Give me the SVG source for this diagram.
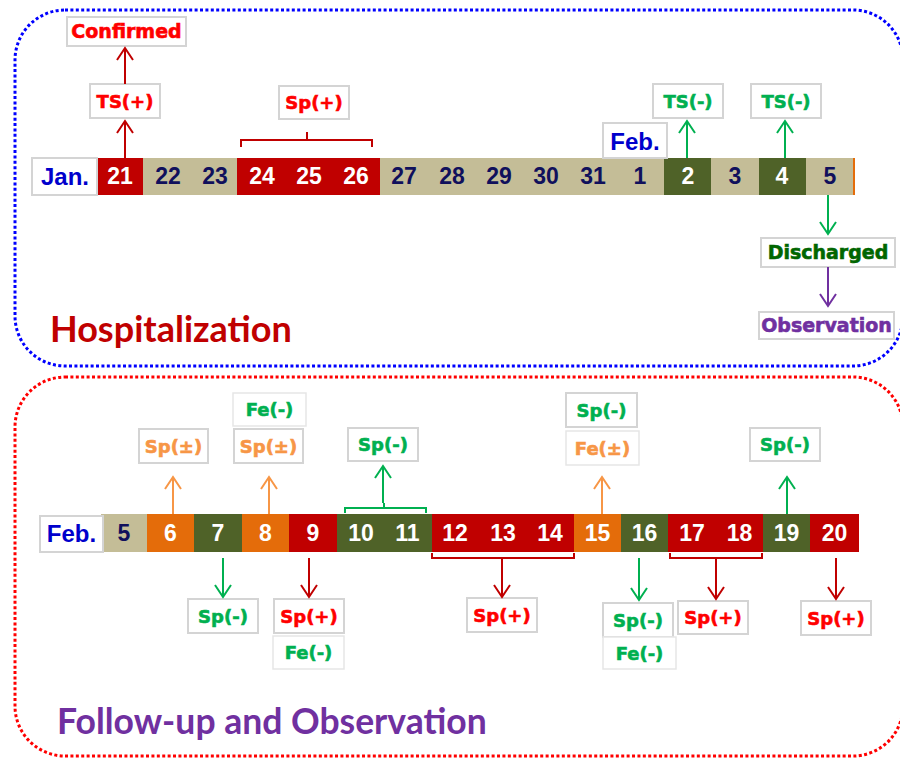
<svg xmlns="http://www.w3.org/2000/svg" width="900" height="758" viewBox="0 0 900 758">
<style>
.frame{fill:none;stroke-width:3;stroke-dasharray:3 2.4}
.box{fill:#fff;stroke:#D4D4D4;stroke-width:2}
.box2{fill:#fff;stroke:#E6E6E6;stroke-width:1.5}
.lbl{font-family:"DejaVu Sans",sans-serif;font-weight:bold;font-size:18px;text-anchor:middle;stroke-width:0.6;paint-order:stroke}
.big{font-size:19px}
.num{font-family:"Liberation Sans",Arial,sans-serif;font-weight:bold;font-size:23px;text-anchor:middle}
.mon{font-family:"Liberation Sans",Arial,sans-serif;font-weight:bold;font-size:24px;text-anchor:middle;fill:#0000CC}
.w{fill:#fff}.n{fill:#10105C}
.red{fill:#FF0000;stroke:#FF0000}.grn{fill:#00B050;stroke:#00B050}.org{fill:#F79646;stroke:#F79646}.dgr{fill:#006600;stroke:#006600}.pur{fill:#7030A0;stroke:#7030A0}
.tan{fill:#C4BD97}.cr{fill:#C00000}.cg{fill:#4F6228}.co{fill:#E46C0A}
.title{font-family:Lato,"Open Sans",sans-serif;font-weight:bold}
.a{fill:none;stroke-width:2}
.ar{stroke:#C00000}.ag{stroke:#00B050}.ao{stroke:#F79646}.ap{stroke:#7030A0}
</style>
<defs>
<marker id="mr" markerUnits="userSpaceOnUse" markerWidth="20" markerHeight="20" refX="0" refY="0" orient="auto" overflow="visible"><path d="M-12,-8 L0,0 L-12,8" fill="none" stroke="#C00000" stroke-width="2"/></marker>
<marker id="mg" markerUnits="userSpaceOnUse" markerWidth="20" markerHeight="20" refX="0" refY="0" orient="auto" overflow="visible"><path d="M-12,-8 L0,0 L-12,8" fill="none" stroke="#00B050" stroke-width="2"/></marker>
<marker id="mo" markerUnits="userSpaceOnUse" markerWidth="20" markerHeight="20" refX="0" refY="0" orient="auto" overflow="visible"><path d="M-12,-8 L0,0 L-12,8" fill="none" stroke="#F79646" stroke-width="2"/></marker>
<marker id="mp" markerUnits="userSpaceOnUse" markerWidth="20" markerHeight="20" refX="0" refY="0" orient="auto" overflow="visible"><path d="M-12,-8 L0,0 L-12,8" fill="none" stroke="#7030A0" stroke-width="2"/></marker>
</defs>

<!-- frames -->
<g id="hospitalization-frame">
<rect class="frame" x="15" y="10" width="888" height="356" rx="50" ry="50" stroke="#0000FF"/>
<text class="title" x="50" y="342" font-size="36" fill="#C00000">Hospitalization</text>
</g>
<g id="followup-frame">
<rect class="frame" x="15" y="377" width="888" height="379" rx="50" ry="50" stroke="#FF0000"/>
<text class="title" x="57" y="734" font-size="35.5" fill="#7030A0">Follow-up and Observation</text>
</g>

<!-- top timeline -->
<g id="timeline-jan">
<rect class="tan" x="97" y="158" width="757" height="37"/>
<rect class="cr" x="97" y="158" width="46" height="37"/>
<rect class="cr" x="237" y="158" width="143" height="37"/>
<rect class="cg" x="664" y="158" width="47" height="37"/>
<rect class="cg" x="759" y="158" width="47" height="37"/>
<rect x="853" y="158" width="2" height="37" fill="#E46C0A"/>
<rect class="box" x="32" y="158" width="65" height="37"/>
<text class="mon" x="65" y="185">Jan.</text>
<text class="num w" x="120" y="184">21</text>
<text class="num n" x="168" y="184">22</text>
<text class="num n" x="215" y="184">23</text>
<text class="num w" x="262" y="184">24</text>
<text class="num w" x="309" y="184">25</text>
<text class="num w" x="356" y="184">26</text>
<text class="num n" x="404" y="184">27</text>
<text class="num n" x="452" y="184">28</text>
<text class="num n" x="499" y="184">29</text>
<text class="num n" x="546" y="184">30</text>
<text class="num n" x="593" y="184">31</text>
<text class="num n" x="640" y="184">1</text>
<text class="num w" x="688" y="184">2</text>
<text class="num n" x="735" y="184">3</text>
<text class="num w" x="782" y="184">4</text>
<text class="num n" x="830" y="184">5</text>
</g>
<g id="feb-top"><rect class="box" x="603" y="123" width="64" height="35"/><text class="mon" x="635" y="150">Feb.</text></g>

<g id="n-confirmed"><rect class="box" x="67" y="17" width="119" height="29"/><text class="lbl big red" x="126.5" y="38">Confirmed</text></g>
<g id="n-ts-plus"><rect class="box" x="90" y="84" width="70" height="34"/><text class="lbl red" x="125" y="107.5">TS(+)</text></g>
<g id="n-sp-plus-top"><rect class="box" x="279" y="86" width="70" height="33"/><text class="lbl red" x="314" y="109">Sp(+)</text></g>
<g id="n-ts-minus-2"><rect class="box" x="653" y="84" width="70" height="34"/><text class="lbl grn" x="688" y="107.5">TS(-)</text></g>
<g id="n-ts-minus-4"><rect class="box" x="751" y="84" width="70" height="34"/><text class="lbl grn" x="786" y="107.5">TS(-)</text></g>
<g id="n-discharged"><rect class="box" x="761" y="238" width="134" height="29"/><text class="lbl big dgr" x="828" y="259">Discharged</text></g>
<g id="n-observation"><rect class="box" x="759" y="312" width="135" height="27"/><text class="lbl big pur" x="826.5" y="332">Observation</text></g>

<!-- bottom timeline -->
<g id="timeline-feb">
<rect class="tan" x="101" y="514" width="46" height="38"/>
<rect class="co" x="147" y="514" width="47" height="38"/>
<rect class="cg" x="194" y="514" width="48" height="38"/>
<rect class="co" x="242" y="514" width="47" height="38"/>
<rect class="cr" x="289" y="514" width="48" height="38"/>
<rect class="cg" x="337" y="514" width="95" height="38"/>
<rect class="cr" x="432" y="514" width="142" height="38"/>
<rect class="co" x="574" y="514" width="47" height="38"/>
<rect class="cg" x="621" y="514" width="47" height="38"/>
<rect class="cr" x="668" y="514" width="95" height="38"/>
<rect class="cg" x="763" y="514" width="47" height="38"/>
<rect class="cr" x="810" y="514" width="49" height="38"/>
<rect class="box" x="40" y="516" width="63" height="36"/>
<text class="mon" x="71.5" y="542">Feb.</text>
<text class="num n" x="124" y="541">5</text>
<text class="num w" x="170.5" y="541">6</text>
<text class="num w" x="218" y="541">7</text>
<text class="num w" x="265.5" y="541">8</text>
<text class="num w" x="313" y="541">9</text>
<text class="num w" x="361" y="541">10</text>
<text class="num w" x="407.5" y="541">11</text>
<text class="num w" x="455" y="541">12</text>
<text class="num w" x="503" y="541">13</text>
<text class="num w" x="550" y="541">14</text>
<text class="num w" x="597.5" y="541">15</text>
<text class="num w" x="644.5" y="541">16</text>
<text class="num w" x="692" y="541">17</text>
<text class="num w" x="739.5" y="541">18</text>
<text class="num w" x="786.5" y="541">19</text>
<text class="num w" x="834.5" y="541">20</text>
</g>

<g id="n-sppm-6"><rect class="box" x="139" y="429" width="69" height="34"/><text class="lbl org" x="173.5" y="452.5">Sp(±)</text></g>
<g id="n-fe-8"><rect class="box2" x="233" y="393" width="73" height="33"/><text class="lbl grn" x="269.5" y="416">Fe(-)</text></g>
<g id="n-sppm-8"><rect class="box" x="234" y="429" width="69" height="34"/><text class="lbl org" x="268.5" y="452.5">Sp(±)</text></g>
<g id="n-sp-10"><rect class="box" x="348" y="428" width="70" height="33"/><text class="lbl grn" x="383" y="451">Sp(-)</text></g>
<g id="n-sp-15"><rect class="box" x="566" y="393" width="71" height="34"/><text class="lbl grn" x="601.5" y="416.5">Sp(-)</text></g>
<g id="n-fepm-15"><rect class="box2" x="566" y="431" width="73" height="34"/><text class="lbl org" x="602.5" y="454.5">Fe(±)</text></g>
<g id="n-sp-19"><rect class="box" x="750" y="428" width="70" height="33"/><text class="lbl grn" x="785" y="451">Sp(-)</text></g>
<g id="n-sp-7"><rect class="box" x="188" y="599" width="70" height="34"/><text class="lbl grn" x="223" y="622.5">Sp(-)</text></g>
<g id="n-sp-9"><rect class="box" x="274" y="599" width="70" height="34"/><text class="lbl red" x="309" y="622.5">Sp(+)</text></g>
<g id="n-fe-9"><rect class="box2" x="273" y="636" width="71" height="33"/><text class="lbl grn" x="308.5" y="659">Fe(-)</text></g>
<g id="n-sp-12"><rect class="box" x="467" y="598" width="70" height="34"/><text class="lbl red" x="502" y="621.5">Sp(+)</text></g>
<g id="n-sp-16"><rect class="box" x="603" y="603" width="70" height="34"/><text class="lbl grn" x="638" y="626.5">Sp(-)</text></g>
<g id="n-fe-16"><rect class="box2" x="603" y="637" width="73" height="32"/><text class="lbl grn" x="639.5" y="659.5">Fe(-)</text></g>
<g id="n-sp-17"><rect class="box" x="678" y="601" width="70" height="33"/><text class="lbl red" x="713" y="624">Sp(+)</text></g>
<g id="n-sp-20"><rect class="box" x="801" y="601" width="70" height="34"/><text class="lbl red" x="836" y="624.5">Sp(+)</text></g>

<!-- connectors -->
<g id="connectors">
<path class="a ar" d="M125,158 V121" marker-end="url(#mr)"/>
<path class="a ar" d="M125,84 V48" marker-end="url(#mr)"/>
<path class="a ar" d="M241,147 V140 H372 V147 M307,140 V132"/>
<path class="a ag" d="M687,158 V121" marker-end="url(#mg)"/>
<path class="a ag" d="M785,158 V121" marker-end="url(#mg)"/>
<path class="a ag" d="M828,195 V234" marker-end="url(#mg)"/>
<path class="a ap" d="M828,267 V306" marker-end="url(#mp)"/>

<path class="a ao" d="M173,514 V477" marker-end="url(#mo)"/>
<path class="a ao" d="M269,514 V477" marker-end="url(#mo)"/>
<path class="a ag" d="M345,513 V508 H426 V513 M384,508 V503"/>
<path class="a ag" d="M383,503 V466" marker-end="url(#mg)"/>
<path class="a ao" d="M602,514 V477" marker-end="url(#mo)"/>
<path class="a ag" d="M787,514 V477" marker-end="url(#mg)"/>
<path class="a ag" d="M223,558 V597" marker-end="url(#mg)"/>
<path class="a ar" d="M309,558 V597" marker-end="url(#mr)"/>
<path class="a ar" d="M432,553 V558 H574 V553"/>
<path class="a ar" d="M502,558 V597" marker-end="url(#mr)"/>
<path class="a ag" d="M639,558 V600" marker-end="url(#mg)"/>
<path class="a ar" d="M670,553 V558 H762 V553"/>
<path class="a ar" d="M716,558 V599" marker-end="url(#mr)"/>
<path class="a ar" d="M836,558 V599" marker-end="url(#mr)"/>
</g>
</svg>
